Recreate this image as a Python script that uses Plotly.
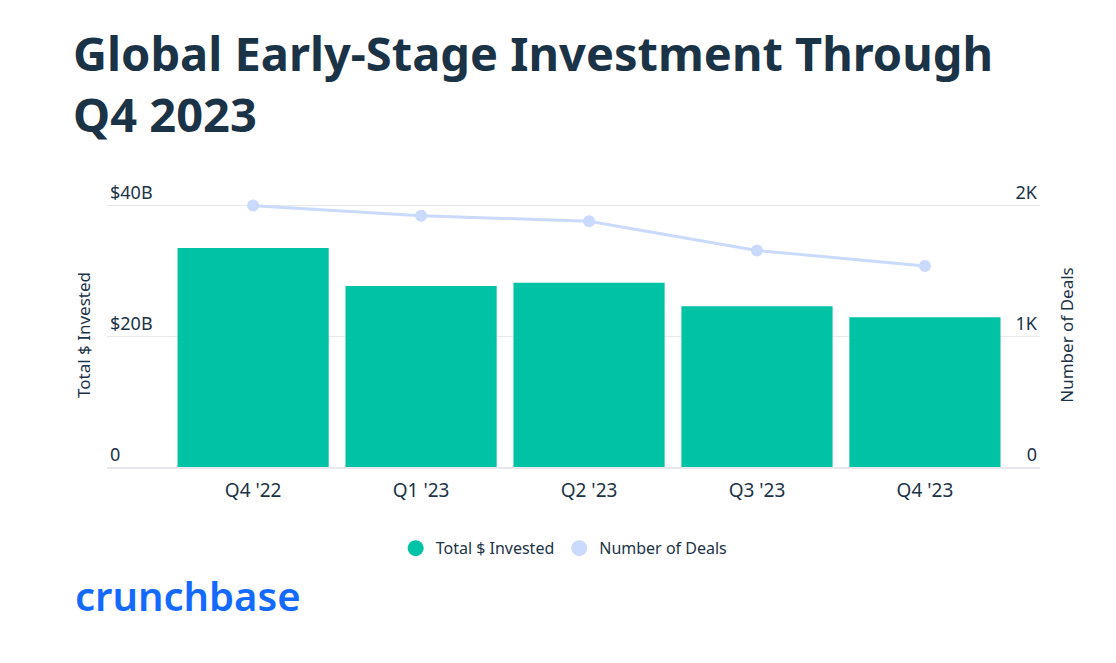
import plotly.graph_objects as go

# Data
quarters = ["Q4 '22", "Q1 '23", "Q2 '23", "Q3 '23", "Q4 '23"]
invested_b = [33.5, 27.7, 28.2, 24.6, 22.9]   # total $ invested, billions
deals = [2000, 1923, 1880, 1657, 1538]         # number of deals

left_ticks = [0, 20, 40]
left_labels = ["0", "$20B", "$40B"]
right_ticks = [0, 1000, 2000]
right_labels = ["0", "1K", "2K"]

TEXT = "#1b3347"
GRID = "#e6e8eb"
GREEN = "#00c2a5"
BLUE = "#c9dafc"

fig = go.Figure()

fig.add_trace(go.Bar(
    x=quarters,
    y=invested_b,
    name="Total $ Invested",
    marker=dict(color=GREEN, line=dict(width=0)),
    yaxis="y",
    showlegend=False,
))

fig.add_trace(go.Scatter(
    x=quarters,
    y=deals,
    name="Number of Deals",
    mode="lines+markers",
    line=dict(color=BLUE, width=3),
    marker=dict(color=BLUE, size=12),
    yaxis="y2",
    cliponaxis=False,
    showlegend=False,
))

# round legend swatches like the original
for name, color in [("Total $ Invested", GREEN), ("Number of Deals", BLUE)]:
    fig.add_trace(go.Scatter(
        x=[None], y=[None], name=name, mode="markers",
        marker=dict(color=color, size=22),
    ))

fig.update_layout(
    width=1108,
    height=655,
    margin=dict(l=99, r=76, t=195.4, b=196),
    paper_bgcolor="white",
    plot_bgcolor="white",
    font=dict(family="Noto Sans", color=TEXT, size=16),
    bargap=0.1,
    xaxis=dict(
        type="category",
        range=[-0.87, 4.685],
        showgrid=False,
        showline=True,
        linecolor=GRID,
        linewidth=2,
        ticks="outside",
        ticklen=5,
        tickcolor="white",
        tickfont=dict(size=19, color=TEXT),
    ),
    yaxis=dict(
        range=[0, 40.4],
        tickvals=left_ticks,
        ticktext=left_labels,
        ticklabelposition="inside top",
        ticklabeloverflow="allow",
        showgrid=True,
        gridcolor=GRID,
        gridwidth=1,
        zeroline=False,
        tickfont=dict(size=18, color=TEXT),
        title=dict(text="Total $ Invested", font=dict(size=17, color=TEXT), standoff=15),
    ),
    yaxis2=dict(
        range=[0, 2020],
        overlaying="y",
        side="right",
        tickvals=right_ticks,
        ticktext=right_labels,
        ticklabelposition="inside top",
        ticklabeloverflow="allow",
        showgrid=False,
        zeroline=False,
        tickfont=dict(size=18, color=TEXT),
        title=dict(text="Number of Deals", font=dict(size=17, color=TEXT), standoff=24),
    ),
    legend=dict(
        orientation="h",
        x=0.49, xanchor="center",
        y=-0.308, yanchor="middle",
        font=dict(size=16, color=TEXT),
        itemsizing="trace",
    ),
)

fig.add_annotation(
    text="Global Early-Stage Investment Through<br>Q4 2023",
    xref="paper", yref="paper",
    x=-0.0385, xanchor="left",
    y=1.452, yanchor="middle",
    align="left",
    showarrow=False,
    font=dict(family="Noto Sans", size=47, color=TEXT, weight=700),
)

fig.add_annotation(
    text="crunchbase",
    xref="paper", yref="paper",
    x=-0.036, xanchor="left",
    y=-0.487, yanchor="middle",
    showarrow=False,
    font=dict(family="Noto Sans", size=40, color="#146aff", weight=600),
)

fig.write_html("out.html")
